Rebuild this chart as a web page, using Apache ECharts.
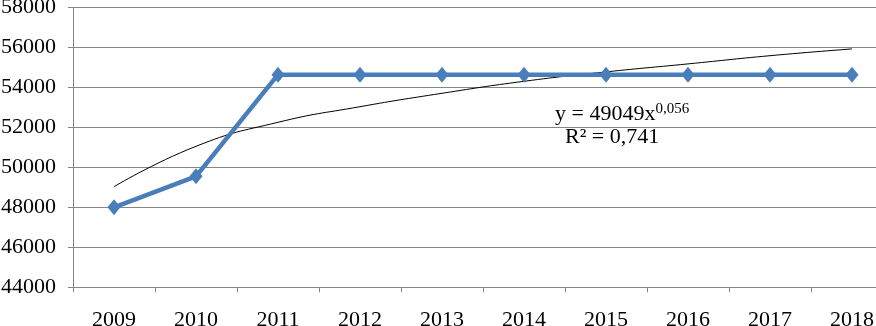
<!DOCTYPE html>
<html>
<head>
<meta charset="utf-8">
<script src="https://cdn.jsdelivr.net/npm/echarts@6/dist/echarts.min.js"></script>
<style>html,body{margin:0;padding:0;background:#fff;}#c{width:876px;height:326px;}</style>
</head>
<body>
<div id="c"></div>
<script>
const categories = ['2009','2010','2011','2012','2013','2014','2015','2016','2017','2018'];
const seriesValues = [48000, 49550, 54630, 54630, 54630, 54630, 54630, 54630, 54630, 54630];
const trendValues = [49030, 51050, 52250, 53030, 53700, 54300, 54770, 55170, 55580, 55920];
const yTicks = [44000, 46000, 48000, 50000, 52000, 54000, 56000, 58000];
const trendEquation = 'y = 49049x';
const trendExponent = '0,056';
const trendR2 = 'R² = 0,741';

const font = 'Liberation Serif, Times New Roman, serif';
const chart = echarts.init(document.getElementById('c'), null, {renderer: 'canvas'});
chart.setOption({
  animation: false,
  backgroundColor: '#fff',
  grid: {left: 73, right: -17, top: 7.3, bottom: 38.7, containLabel: false, outerBoundsMode: 'none'},
  xAxis: {
    type: 'category',
    data: categories,
    boundaryGap: true,
    axisLine: {lineStyle: {color: '#868686', width: 1}},
    axisTick: {show: true, length: 5, lineStyle: {color: '#868686'}},
    axisLabel: {color: '#000', fontFamily: font, fontSize: 22, margin: 22}
  },
  yAxis: {
    type: 'value',
    min: yTicks[0],
    max: yTicks[yTicks.length - 1],
    interval: 2000,
    axisLine: {show: true, lineStyle: {color: '#868686', width: 1}},
    axisTick: {show: true, length: 5, lineStyle: {color: '#868686'}},
    splitLine: {lineStyle: {color: '#868686', width: 1}},
    axisLabel: {color: '#000', fontFamily: font, fontSize: 22, margin: 17, formatter: v => String(v)}
  },
  series: [
    {
      type: 'line',
      data: trendValues,
      smooth: true,
      symbol: 'none',
      lineStyle: {color: '#000', width: 1},
      z: 3
    },
    {
      type: 'line',
      data: seriesValues,
      symbol: 'diamond',
      symbolSize: [13, 16],
      itemStyle: {color: '#4A7EBB'},
      lineStyle: {color: '#4A7EBB', width: 4.5},
      z: 4
    }
  ],
  graphic: [
    {
      type: 'text',
      left: 555, top: 98,
      style: {
        text: '{a|' + trendEquation + '}{s|' + trendExponent + '}',
        rich: {
          a: {fontFamily: font, fontSize: 22, fill: '#000', lineHeight: 27, verticalAlign: 'bottom'},
          s: {fontFamily: font, fontSize: 15, fill: '#000', lineHeight: 17, verticalAlign: 'top', padding: [4, 0, 0, 0]}
        }
      }
    },
    {
      type: 'text',
      left: 565, top: 126,
      style: {text: trendR2, fontFamily: font, fontSize: 22, fill: '#000'}
    }
  ]
});
</script>
</body>
</html>
